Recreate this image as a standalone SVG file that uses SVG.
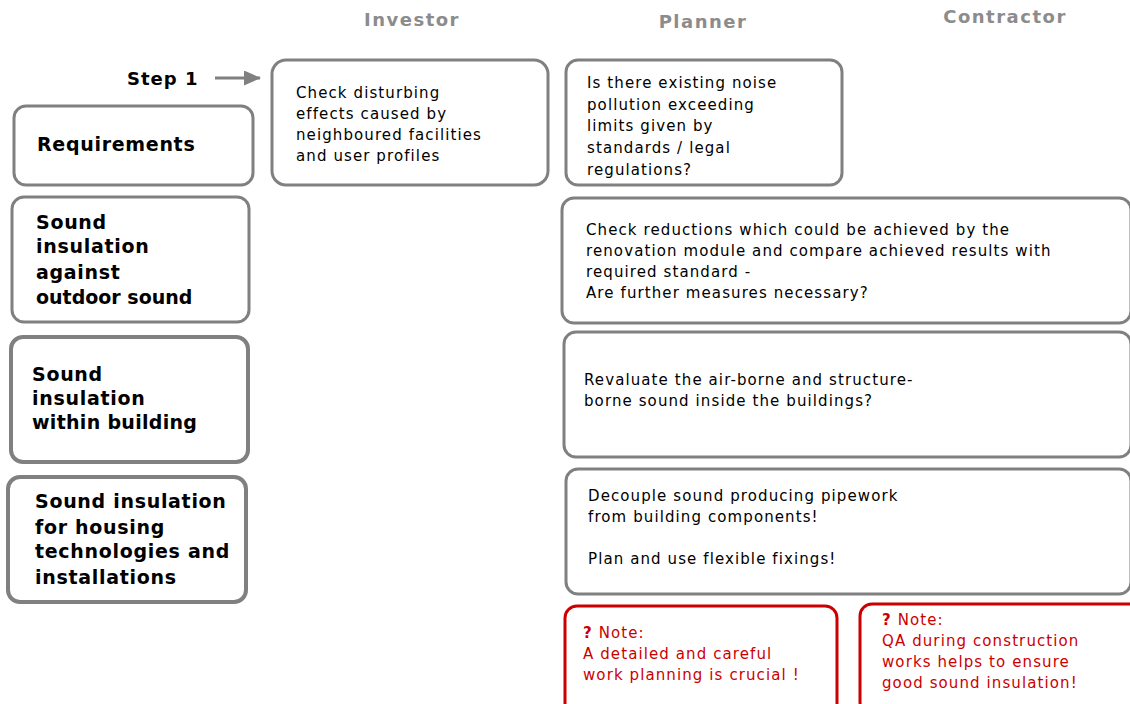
<svg xmlns="http://www.w3.org/2000/svg" width="1130" height="704" viewBox="0 0 1130 704">
<style>
.box{fill:#fff;stroke:#808080;stroke-width:3}
.thick{stroke-width:4}
.red{fill:#fff;stroke:#cc0000;stroke-width:3}
.hd{font-family:"DejaVu Sans",Verdana,sans-serif;font-weight:bold;font-size:18px;letter-spacing:1.5px;fill:#8c8c8c;text-anchor:middle}
.lb{font-family:"DejaVu Sans",Verdana,sans-serif;font-weight:bold;font-size:19px;letter-spacing:0.7px;fill:#000}
.tx{font-family:"DejaVu Sans",Verdana,sans-serif;font-size:15px;letter-spacing:1.1px;fill:#000}
.rt{font-family:"DejaVu Sans",Verdana,sans-serif;font-size:15px;letter-spacing:1.1px;fill:#cc0000}
</style>
<defs>
<marker id="ah" markerWidth="17" markerHeight="15" refX="16" refY="7.5" orient="auto" markerUnits="userSpaceOnUse">
<path d="M0,0 L17,7.5 L0,15 Z" fill="#808080"/>
</marker>
</defs>
<g id="headers">
<text class="hd" x="412" y="26">Investor</text>
<text class="hd" x="703" y="28">Planner</text>
<text class="hd" x="1005" y="23">Contractor</text>
</g>
<g id="step1">
<text class="lb" x="127" y="85" style="font-size:18px;letter-spacing:1px">Step 1</text>
</g>
<g id="connectors">
<line x1="215" y1="78" x2="260" y2="78" stroke="#808080" stroke-width="3" marker-end="url(#ah)"/>
</g>
<g id="requirements">
<rect class="box" x="14" y="106" width="239" height="79" rx="12"/>
<text class="lb" x="37" y="151">Requirements</text>
</g>
<g id="outdoor">
<rect class="box" x="12" y="197" width="237" height="125" rx="12"/>
<text class="lb" x="36" y="229">Sound</text>
<text class="lb" x="36" y="253">insulation</text>
<text class="lb" x="36" y="279">against</text>
<text class="lb" x="36" y="304" style="letter-spacing:0">outdoor sound</text>
</g>
<g id="within">
<rect class="box thick" x="11" y="337" width="237" height="125" rx="12"/>
<text class="lb" x="32" y="381">Sound</text>
<text class="lb" x="32" y="405">insulation</text>
<text class="lb" x="32" y="429" style="letter-spacing:0.3px">within building</text>
</g>
<g id="housing">
<rect class="box thick" x="8" y="477" width="238" height="125" rx="12"/>
<text class="lb" x="35" y="508">Sound insulation</text>
<text class="lb" x="35" y="534">for housing</text>
<text class="lb" x="35" y="558">technologies and</text>
<text class="lb" x="35" y="584">installations</text>
</g>
<g id="investor1">
<rect class="box" x="272" y="60" width="276" height="125" rx="14"/>
<text class="tx" x="296" y="98">Check disturbing</text>
<text class="tx" x="296" y="119">effects caused by</text>
<text class="tx" x="296" y="140">neighboured facilities</text>
<text class="tx" x="296" y="161">and user profiles</text>
</g>
<g id="planner1">
<rect class="box" x="566" y="60" width="276" height="125" rx="12"/>
<text class="tx" x="587" y="88">Is there existing noise</text>
<text class="tx" x="587" y="110">pollution exceeding</text>
<text class="tx" x="587" y="131">limits given by</text>
<text class="tx" x="587" y="153">standards / legal</text>
<text class="tx" x="587" y="175">regulations?</text>
</g>
<g id="planner2">
<rect class="box" x="562" y="198" width="569" height="125" rx="12"/>
<text class="tx" x="586" y="235">Check reductions which could be achieved by the</text>
<text class="tx" x="586" y="256">renovation module and compare achieved results with</text>
<text class="tx" x="586" y="277">required standard -</text>
<text class="tx" x="586" y="298">Are further measures necessary?</text>
</g>
<g id="planner3">
<rect class="box" x="564" y="332" width="567" height="125" rx="12"/>
<text class="tx" x="584" y="385">Revaluate the air-borne and structure-</text>
<text class="tx" x="584" y="406">borne sound inside the buildings?</text>
</g>
<g id="planner4">
<rect class="box" x="566" y="469" width="565" height="125" rx="12"/>
<text class="tx" x="588" y="501">Decouple sound producing pipework</text>
<text class="tx" x="588" y="522">from building components!</text>
<text class="tx" x="588" y="564">Plan and use flexible fixings!</text>
</g>
<g id="note1">
<rect class="red" x="565" y="606" width="272" height="110" rx="12"/>
<text class="rt" x="583" y="638"><tspan font-weight="bold">?</tspan> Note:</text>
<text class="rt" x="583" y="659">A detailed and careful</text>
<text class="rt" x="583" y="680">work planning is crucial !</text>
</g>
<g id="note2">
<rect class="red" x="860" y="604" width="282" height="110" rx="12"/>
<text class="rt" x="882" y="625"><tspan font-weight="bold">?</tspan> Note:</text>
<text class="rt" x="882" y="646">QA during construction</text>
<text class="rt" x="882" y="667">works helps to ensure</text>
<text class="rt" x="882" y="688">good sound insulation!</text>
</g>
</svg>
